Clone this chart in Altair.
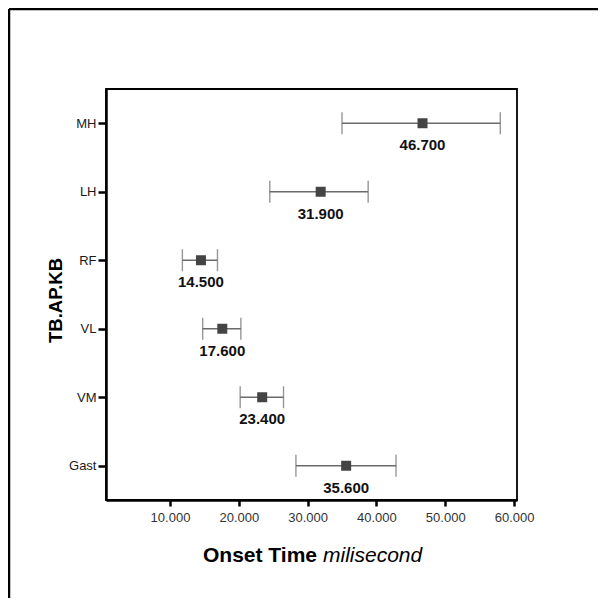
import altair as alt
import pandas as pd

# ---- data (onset time in milliseconds) ----
muscles = ["MH", "LH", "RF", "VL", "VM", "Gast"]
mean_ms = [46700, 31900, 14500, 17600, 23400, 35600]
lower_ms = [35000, 24500, 11800, 14750, 20200, 28300]
upper_ms = [58000, 38800, 16900, 20300, 26500, 42850]
x_ticks = [10000, 20000, 30000, 40000, 50000, 60000]
y_title = "TB.AP.KB"
x_title_bold = ["Onset Time"]
x_title_italic = ["milisecond"]

df = pd.DataFrame({"muscle": muscles, "mean": mean_ms, "lo": lower_ms, "hi": upper_ms})

FONT = "Liberation Sans"

yscale = alt.Scale(type="point", domain=muscles, padding=0.5)
xscale = alt.Scale(domain=[700, 60430], nice=False, zero=False)

yenc = alt.Y("muscle:N", scale=yscale, sort=muscles,
             axis=alt.Axis(title=y_title, titleFontSize=18.5, titleFontWeight="bold",
                           titleFont=FONT, titleColor="#000", titlePadding=3, titleY=211,
                           labelFont=FONT, labelFontSize=13, labelColor="#1a1a1a",
                           labelPadding=2, tickSize=8, tickWidth=2.5, tickColor="#000",
                           domainWidth=2.5, domainColor="#000"))
xenc = alt.X("mean:Q", scale=xscale,
             axis=alt.Axis(title=None, values=x_ticks, format=",.0f",
                           labelFont=FONT, labelFontSize=13, labelColor="#333",
                           labelPadding=5, tickSize=6, tickWidth=2.5, tickColor="#000",
                           domainWidth=2.5, domainColor="#000", grid=False))

base = alt.Chart(df)

rules = base.mark_rule(color="#6a6a6a", strokeWidth=1.3).encode(
    y=yenc, x=alt.X("lo:Q", scale=xscale), x2="hi:Q")
caps_lo = base.mark_tick(color="#6a6a6a", size=22, thickness=1.4, orient="vertical").encode(
    y=yenc, x=alt.X("lo:Q", scale=xscale))
caps_hi = base.mark_tick(color="#6a6a6a", size=22, thickness=1.4, orient="vertical").encode(
    y=yenc, x=alt.X("hi:Q", scale=xscale))
pts = base.mark_square(color="#444", size=100, opacity=1).encode(y=yenc, x=xenc)
labels = base.mark_text(font=FONT, fontSize=15, fontWeight="bold", color="#111",
                        dy=22, baseline="middle").encode(
    y=yenc, x=alt.X("mean:Q", scale=xscale), text=alt.Text("mean:Q", format=",.0f"))

t1 = alt.Chart(pd.DataFrame({"t": x_title_bold})).mark_text(
    font=FONT, fontSize=21, fontWeight="bold", color="#000", align="left", baseline="alphabetic"
).encode(x=alt.value(97), y=alt.value(473), text="t:N")
t2 = alt.Chart(pd.DataFrame({"t": x_title_italic})).mark_text(
    font=FONT, fontSize=21, fontStyle="italic", color="#000", align="left", baseline="alphabetic"
).encode(x=alt.value(217), y=alt.value(473), text="t:N")

frame_left = alt.Chart(pd.DataFrame({"t": [""]})).mark_rule(color="#000", strokeWidth=2.5).encode(
    x=alt.value(-97), y=alt.value(-80), y2=alt.value(520))
frame_top = alt.Chart(pd.DataFrame({"t": [""]})).mark_rule(color="#000", strokeWidth=2.5).encode(
    y=alt.value(-80), x=alt.value(-97), x2=alt.value(495))

chart = alt.layer(rules, caps_lo, caps_hi, pts, labels, t1, t2, frame_left, frame_top).properties(
    width=411, height=411,
    autosize=alt.AutoSizeParams(type="none"),
    padding={"left": 98, "top": 81, "right": 81, "bottom": 98},
).configure(
    background="white",
    view=alt.ViewConfig(stroke="#000", strokeWidth=1.8),
    locale={"number": {"decimal": ",", "thousands": ".", "grouping": [3], "currency": ["", ""]}},
)

chart.save("out.html", embed_options={"renderer": "svg", "actions": False})
